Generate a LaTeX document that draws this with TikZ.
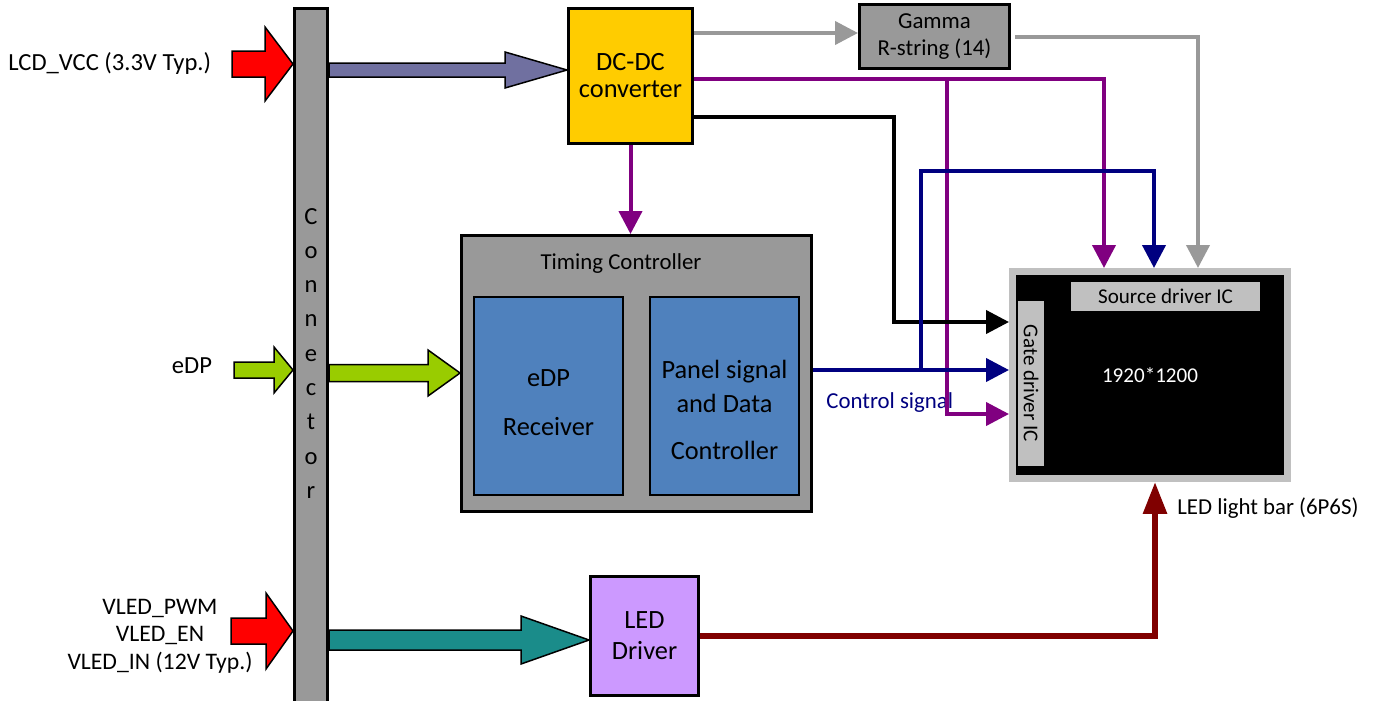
\documentclass[tikz,border=0pt]{standalone}
\usepackage{fontspec}
\setmainfont{Carlito}
\usetikzlibrary{arrows.meta,calc}

\definecolor{vccred}{RGB}{255,0,0}
\definecolor{slate}{RGB}{112,112,160}
\definecolor{edpgreen}{RGB}{153,204,0}
\definecolor{ledteal}{RGB}{26,140,138}
\definecolor{dcyellow}{RGB}{255,204,0}
\definecolor{boxgray}{RGB}{153,153,153}
\definecolor{icblue}{RGB}{79,129,189}
\definecolor{pwrpurple}{RGB}{128,0,128}
\definecolor{ctrlnavy}{RGB}{0,0,128}
\definecolor{bardark}{RGB}{128,0,0}
\definecolor{drvlilac}{RGB}{204,153,255}
\definecolor{panelgray}{RGB}{192,192,192}

\newcommand{\fsz}[2]{\fontsize{#1pt}{#2pt}\selectfont}

% fill, from, to, shaft half, head half, head length (px)
\newcommand{\fatarrow}[6]{%
  \draw[fatline, fill=#1] let \p1=#2, \p2=#3 in
    (\x1,{\y1+#4*0.02cm}) -- ({\x2-#6*0.02cm},{\y1+#4*0.02cm})
    -- ({\x2-#6*0.02cm},{\y1+#5*0.02cm}) -- (\x2,\y1)
    -- ({\x2-#6*0.02cm},{\y1-#5*0.02cm}) -- ({\x2-#6*0.02cm},{\y1-#4*0.02cm})
    -- (\x1,{\y1-#4*0.02cm}) -- cycle;}

\tikzset{
  box/.style={draw=black, line width=0.06cm, inner sep=0pt},
  innerbox/.style={draw=black, line width=0.04cm, fill=icblue, inner sep=0pt,
    minimum width=2.98cm, minimum height=3.96cm},
  wire/.style={line width=0.08cm, -{Triangle[length=0.46cm,width=0.46cm]}},
  fatline/.style={draw=black, line width=0.03cm},
  lbl/.style={inner sep=0pt, font=\fsz{14}{17}},
}

\begin{document}
\begin{tikzpicture}[x=0.02cm, y=-0.02cm]
\useasboundingbox (0,0) rectangle (1379,700);

% connector
\node[box, fill=boxgray, minimum width=0.66cm, minimum height=14cm] (bar) at (311,358) {};
\foreach \ch [count=\i] in {C,o,n,n,e,c,t,o,r}
  \node[lbl, anchor=base] (con\i) at (311,{224+(\i-1)*34.3}) {\ch};

% blocks
\node[box, fill=dcyellow, minimum width=2.48cm, minimum height=2.7cm, align=center,
  font=\fsz{15}{15.4}] (dcdc) at (630.5,76) {DC-DC\\converter};
\node[box, fill=boxgray, minimum width=3cm, minimum height=1.28cm, align=center,
  font=\fsz{13}{15.4}] (gamma) at (934.5,36.5) {Gamma\\R-string (14)};
\node[box, fill=boxgray, minimum width=7cm, minimum height=5.52cm] (tcon) at (636.5,373.5) {};
\node[inner sep=0pt, font=\fsz{13}{16}] (tconlbl) at (621,264) {Timing Controller};
\node[innerbox] (rx) at (548.5,396) {};
\node[innerbox] (psc) at (724.5,396) {};
\node[inner sep=0pt, align=center, font=\fsz{15}{18}] (rxtext) at ([yshift=-0.14cm]rx.center)
  {eDP\\[10pt]Receiver};
\node[inner sep=0pt, align=center, font=\fsz{15}{18}] (psctext) at ([yshift=-0.28cm]psc.center)
  {Panel signal\\[0.8pt]and Data\\[8.8pt]Controller};
\node[box, fill=drvlilac, minimum width=2.16cm, minimum height=2.38cm, align=center,
  font=\fsz{15}{17.7}] (ledd) at (644.5,636) {LED\\Driver};

% panel
\node[fill=black, draw=panelgray, line width=0.14cm, minimum width=5.5cm, minimum height=4.14cm,
  inner sep=0pt, text=white, font=\fsz{12}{14}] (panel) at (1150,375) {1920*1200};
\node[fill=panelgray, minimum width=3.78cm, minimum height=0.58cm, inner sep=0pt,
  font=\fsz{12}{14}] (src) at (1165.5,296.5) {Source driver IC};
\node[fill=panelgray, rotate=-90, minimum width=3.3cm, minimum height=0.52cm, inner sep=0pt,
  font=\fsz{12}{14}] (gate) at (1031,383.5) {Gate driver IC};

% labels
\node[lbl, anchor=west] (vcclbl) at (8,63) {LCD\_VCC (3.3V Typ.)};
\node[lbl] (edplbl) at (192,366) {eDP};
\node[lbl, align=center, font=\fsz{13.5}{15.7}] (vledlbl) at (160,636)
  {VLED\_PWM\\VLED\_EN\\VLED\_IN (12V Typ.)};
\node[inner sep=0pt, anchor=west, text=ctrlnavy, font=\fsz{13}{15}] (ctrllbl) at (826,403) {Control signal};
\node[inner sep=0pt, anchor=west, font=\fsz{13}{15}] (barlbl) at (1177,508) {LED light bar (6P6S)};

% fat arrows
\fatarrow{vccred}{(232,64)}{(bar.west |- 0,64)}{13}{37}{28}
\fatarrow{slate}{(bar.east |- 0,70)}{(dcdc.west |- 0,70)}{7}{18}{62}
\fatarrow{edpgreen}{(234,370)}{(bar.west |- 0,370)}{8}{23}{19}
\fatarrow{edpgreen}{(bar.east |- 0,373)}{(tcon.west |- 0,373)}{8.5}{23}{32}
\fatarrow{vccred}{(231,631)}{(bar.west |- 0,631)}{13}{38}{27}
\fatarrow{ledteal}{(bar.east |- 0,640)}{(ledd.west |- 0,640)}{10}{24}{68}

% wires
\draw[wire, boxgray] (dcdc.east |- 0,33) -- (gamma.west |- 0,33);
\draw[wire, boxgray] ([xshift=0.08cm]gamma.east) -| (1198,0 |- panel.north);
\draw[wire, pwrpurple] (dcdc.east |- 0,79) -| (1104,0 |- panel.north);
\coordinate (pj) at (947,79);
\draw[wire, pwrpurple] (pj) |- (panel.west |- 0,414);
\draw[wire, pwrpurple] (dcdc.south) -- (dcdc.south |- tcon.north);
\draw[wire, black] (dcdc.east |- 0,117) -| (894,322) -- (panel.west |- 0,322);
\draw[wire, ctrlnavy] (tcon.east |- 0,370) -- (panel.west |- 0,370);
\coordinate (nj) at (921,370);
\draw[wire, ctrlnavy] (nj) |- (1154,171) -- (1154,0 |- panel.north);
\draw[wire, bardark, line width=0.12cm, -{Triangle[length=0.64cm,width=0.46cm]}]
  (ledd.east) -| (1155,0 |- panel.south);

\end{tikzpicture}
\end{document}
